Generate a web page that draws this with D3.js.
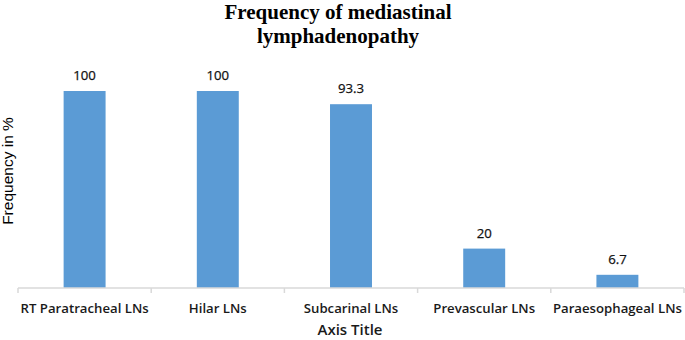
<!DOCTYPE html>
<html>
<head>
<meta charset="utf-8">
<script src="https://cdn.jsdelivr.net/npm/d3@7"></script>
<style>
  body { margin: 0; background: #fff; }
</style>
</head>
<body>
<div id="chart"></div>
<script>
const categories = ["RT Paratracheal LNs", "Hilar LNs", "Subcarinal LNs", "Prevascular LNs", "Paraesophageal LNs"];
const values = [100, 100, 93.3, 20, 6.7];
const valueLabels = ["100", "100", "93.3", "20", "6.7"];
const titleLines = ["Frequency of mediastinal", "lymphadenopathy"];

const svgWidth = 685, svgHeight = 340;
const margin = { top: 91, right: 1, bottom: 52, left: 18 };
const width = svgWidth - margin.left - margin.right;
const height = svgHeight - margin.top - margin.bottom;

const svg = d3.select("#chart").append("svg")
    .attr("width", svgWidth)
    .attr("height", svgHeight)
const g = svg.append("g")
    .attr("transform", "translate(" + margin.left + ", " + margin.top + ")")

const x = d3.scaleBand().domain(categories).range([0, width]).paddingInner(0.685).paddingOuter(0.3425);
const y = d3.scaleLinear().domain([0, 100]).range([height, 0]);

g.selectAll("rect.bar")
    .data(values)
    .enter().append("rect")
    .attr("class", "bar")
    .attr("x", (d, i) => x(categories[i]))
    .attr("y", d => y(d))
    .attr("width", x.bandwidth())
    .attr("height", d => height - y(d))
    .attr("fill", "#5b9bd5")

// x axis, light gray with ticks between categories
const xAxis = g.append("g")
    .attr("transform", "translate(0, " + height + ")")
xAxis.append("line")
    .attr("x1", 0).attr("x2", width)
    .attr("stroke", "#d9d9d9").attr("stroke-width", 1.5)
const step = x.step();
d3.range(categories.length + 1).forEach(i => {
    xAxis.append("line")
        .attr("x1", i * step).attr("x2", i * step)
        .attr("y1", 0).attr("y2", 5)
        .attr("stroke", "#d9d9d9").attr("stroke-width", 1.5)
})
xAxis.selectAll("text.cat")
    .data(categories)
    .enter().append("text")
    .attr("class", "cat")
    .attr("x", d => x(d) + x.bandwidth() / 2)
    .attr("y", 25)
    .attr("text-anchor", "middle")
    .style("font-family", "'Open Sans', sans-serif")
    .style("font-size", "13.2px")
    .style("font-weight", 600)
    .style("fill", "#1a1a1a")
    .text(d => d)

g.selectAll("text.val")
    .data(values)
    .enter().append("text")
    .attr("class", "val")
    .attr("x", (d, i) => x(categories[i]) + x.bandwidth() / 2)
    .attr("y", d => y(d) - 11)
    .attr("text-anchor", "middle")
    .style("font-family", "'Open Sans', sans-serif")
    .style("font-size", "13.2px")
    .style("fill", "#111")
    .style("stroke", "#111")
    .style("stroke-width", 0.25)
    .text((d, i) => valueLabels[i])

svg.selectAll("text.title")
    .data(titleLines)
    .enter().append("text")
    .attr("class", "title")
    .attr("x", 338)
    .attr("y", (d, i) => 19 + i * 24)
    .attr("text-anchor", "middle")
    .style("font-family", "'Liberation Serif', 'Times New Roman', serif")
    .style("font-weight", "bold")
    .style("font-size", "21px")
    .text(d => d)

svg.append("text")
    .attr("transform", "translate(13, 171) rotate(-90)")
    .attr("text-anchor", "middle")
    .style("font-family", "'Liberation Sans', Arial, sans-serif")
    .style("font-size", "15.5px")
    .text("Frequency in %")

svg.append("text")
    .attr("x", 350)
    .attr("y", 335)
    .attr("text-anchor", "middle")
    .style("font-family", "'Open Sans', sans-serif")
    .style("font-size", "15px")
    .style("font-weight", 600)
    .style("fill", "#1a1a1a")
    .text("Axis Title")
</script>
</body>
</html>
